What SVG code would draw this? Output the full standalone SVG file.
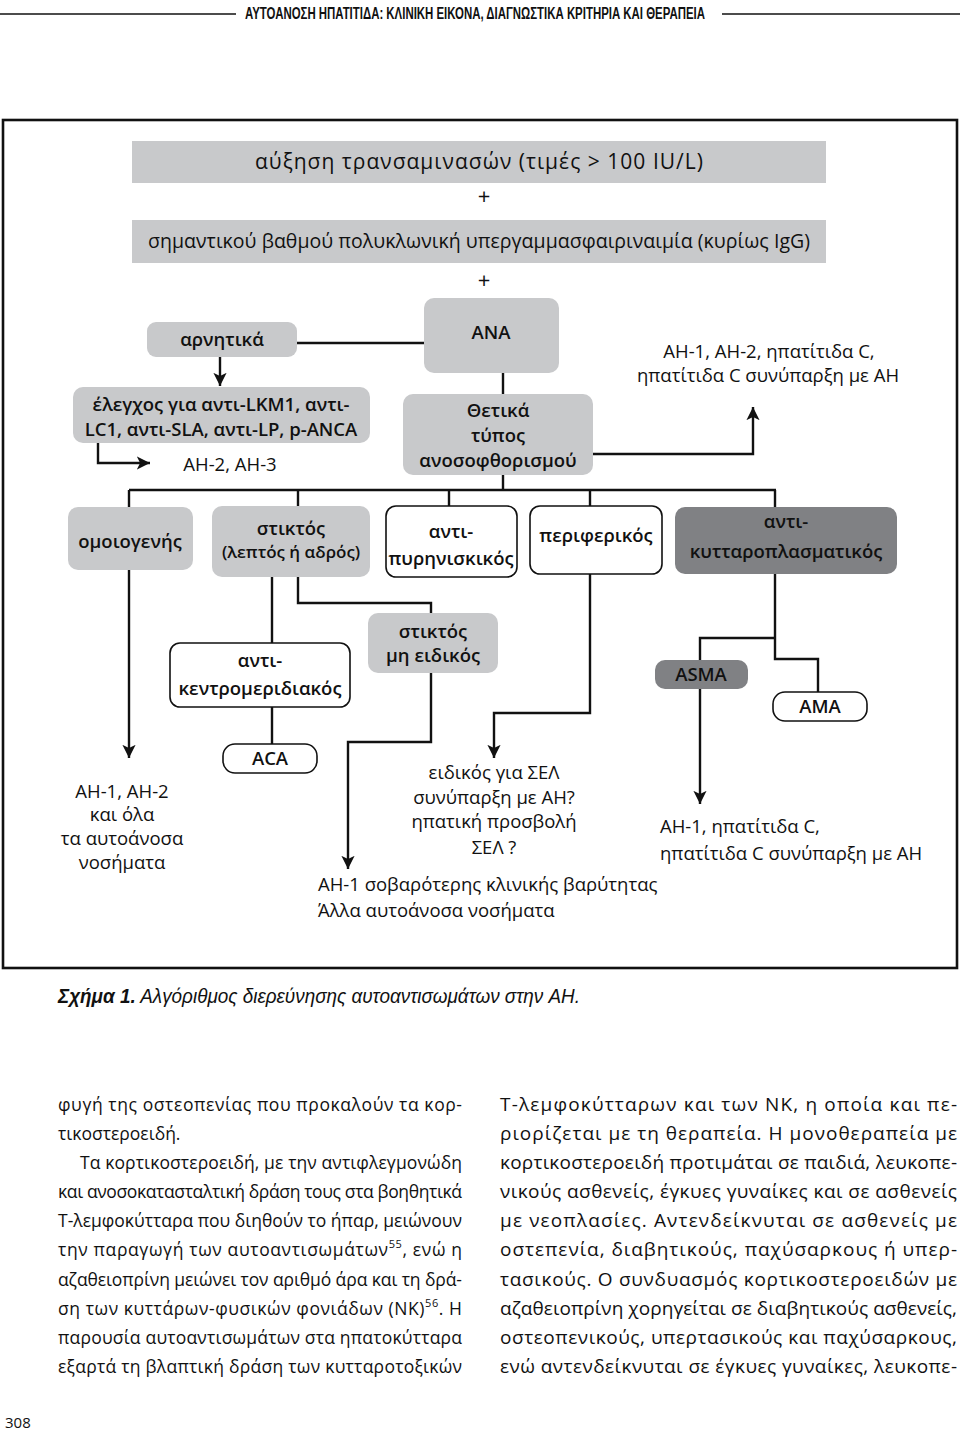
<svg xmlns="http://www.w3.org/2000/svg" width="960" height="1434" viewBox="0 0 960 1434">
<defs>
<marker id="ah" viewBox="0 0 10 10" refX="10" refY="5" markerWidth="5.5" markerHeight="5.5" markerUnits="strokeWidth" orient="auto">
<path d="M0,0 L10,5 L0,10 L2.5,5 Z" fill="#111"/>
</marker>
<style>
.lg{fill:#c8c9cb}
.dg{fill:#808184}
.wb{fill:#fff;stroke:#111;stroke-width:1.6}
.t{font-family:"Open Sans","Noto Sans","DejaVu Sans",sans-serif;font-size:18.5px;fill:#111}
.b{font-family:"Open Sans","Noto Sans","DejaVu Sans",sans-serif;font-size:18.5px;font-weight:600;fill:#111}
.m{text-anchor:middle}
.c{fill:none;stroke:#111;stroke-width:2.4}
.ca{fill:none;stroke:#111;stroke-width:2.4;marker-end:url(#ah)}
.body{font-family:"Open Sans","Noto Sans","DejaVu Sans",sans-serif;font-size:17.5px;fill:#111}
.body2{font-family:"Open Sans","Noto Sans","DejaVu Sans",sans-serif;font-size:19px;fill:#111}
.sup{font-size:11px}
</style>
</defs>
<rect width="960" height="1434" fill="#fff"/>

<!-- page header -->
<g id="header">
<line x1="0" y1="14" x2="236" y2="14" stroke="#111" stroke-width="1.5"/>
<line x1="722" y1="14" x2="960" y2="14" stroke="#111" stroke-width="1.5"/>
<text x="245" y="19" font-family="'Liberation Sans',sans-serif" font-weight="bold" font-size="16" textLength="460" lengthAdjust="spacingAndGlyphs" fill="#111">ΑΥΤΟΑΝΟΣΗ ΗΠΑΤΙΤΙΔΑ: ΚΛΙΝΙΚΗ ΕΙΚΟΝΑ, ΔΙΑΓΝΩΣΤΙΚΑ ΚΡΙΤΗΡΙΑ ΚΑΙ ΘΕΡΑΠΕΙΑ</text>
</g>

<!-- frame -->
<rect id="frame" x="3" y="120" width="954" height="848" fill="none" stroke="#111" stroke-width="2.6"/>

<!-- connectors -->
<g id="connectors">
<line class="c" x1="297" y1="343" x2="424" y2="343"/>
<line class="ca" x1="220" y1="357" x2="220" y2="386"/>
<polyline class="ca" points="98,443 98,463 150,463"/>
<line class="c" x1="503" y1="373" x2="503" y2="394"/>
<polyline class="ca" points="593,454 753,454 753,407"/>
<line class="c" x1="503" y1="475" x2="503" y2="490"/>
<line class="c" x1="129" y1="490" x2="776" y2="490"/>
<line class="c" x1="129" y1="490" x2="129" y2="507"/>
<line class="c" x1="298" y1="490" x2="298" y2="506"/>
<line class="c" x1="449" y1="490" x2="449" y2="506"/>
<line class="c" x1="590" y1="490" x2="590" y2="506"/>
<line class="c" x1="775" y1="490" x2="775" y2="507"/>
<line class="ca" x1="129" y1="570" x2="129" y2="758"/>
<line class="c" x1="272" y1="577" x2="272" y2="643"/>
<polyline class="c" points="298,577 298,603 431,603 431,613"/>
<polyline class="ca" points="431,673 431,742 348,742 348,869"/>
<line class="c" x1="272" y1="707" x2="272" y2="744"/>
<polyline class="ca" points="590,574 590,713 494,713 494,758"/>
<polyline class="c" points="775,574 775,659 818,659 818,692"/>
<polyline class="c" points="775,638 700,638 700,660"/>
<line class="ca" x1="700" y1="689" x2="700" y2="804"/>
</g>

<!-- nodes -->
<g id="n-transaminases">
<rect class="lg" x="132" y="141" width="694" height="42"/>
<text class="t m" x="479" y="169" style="font-size:21px;font-weight:500" textLength="448" lengthAdjust="spacing">αύξηση τρανσαμινασών (τιμές &gt; 100 IU/L)</text>
</g>
<g id="plus1"><text class="t m" x="484" y="204" style="font-size:22px">+</text></g>
<g id="n-hypergamma">
<rect class="lg" x="132" y="220" width="694" height="43"/>
<text class="t m" x="479" y="248" style="font-size:19.5px;font-weight:500" textLength="662" lengthAdjust="spacing">σημαντικού βαθμού πολυκλωνική υπεργαμμασφαιριναιμία (κυρίως IgG)</text>
</g>
<g id="plus2"><text class="t m" x="484" y="288" style="font-size:22px">+</text></g>

<g id="n-negative">
<rect class="lg" x="147" y="322" width="150" height="35" rx="9"/>
<text class="b m" x="222" y="346">αρνητικά</text>
</g>
<g id="n-ana">
<rect class="lg" x="424" y="298" width="135" height="75" rx="10"/>
<text class="b m" x="491" y="339">ANA</text>
</g>
<g id="n-check">
<rect class="lg" x="73" y="387" width="297" height="56" rx="10"/>
<text class="b m" x="221" y="411">έλεγχος για αντι-LKM1, αντι-</text>
<text class="b m" x="221" y="436">LC1, αντι-SLA, αντι-LP, p-ANCA</text>
</g>
<g id="n-ah23"><text class="t m" x="230" y="471">AH-2, AH-3</text></g>
<g id="n-positive">
<rect class="lg" x="403" y="394" width="190" height="81" rx="10"/>
<text class="b m" x="498" y="417">Θετικά</text>
<text class="b m" x="498" y="442">τύπος</text>
<text class="b m" x="498" y="467">ανοσοφθορισμού</text>
</g>
<g id="n-ah12c">
<text class="t m" x="769" y="358">AH-1, AH-2, ηπατίτιδα C,</text>
<text class="t m" x="768" y="382">ηπατίτιδα C συνύπαρξη με AH</text>
</g>

<g id="n-homogeneous">
<rect class="lg" x="68" y="507" width="125" height="63" rx="10"/>
<text class="b m" x="130" y="548">ομοιογενής</text>
</g>
<g id="n-speckled">
<rect class="lg" x="212" y="506" width="158" height="71" rx="10"/>
<text class="b m" x="291" y="535">στικτός</text>
<text class="b m" x="291" y="558" style="font-size:17px">(λεπτός ή αδρός)</text>
</g>
<g id="n-nucleolar">
<rect class="wb" x="386" y="506" width="131" height="71" rx="10"/>
<text class="b m" x="451" y="538">αντι-</text>
<text class="b m" x="451" y="565">πυρηνισκικός</text>
</g>
<g id="n-peripheral">
<rect class="wb" x="530" y="506" width="132" height="68" rx="10"/>
<text class="b m" x="596" y="542">περιφερικός</text>
</g>
<g id="n-cytoplasmic">
<rect class="dg" x="675" y="507" width="222" height="67" rx="10"/>
<text class="b m" x="786" y="528">αντι-</text>
<text class="b m" x="786" y="558">κυτταροπλασματικός</text>
</g>

<g id="n-nonspecific">
<rect class="lg" x="368" y="613" width="130" height="60" rx="10"/>
<text class="b m" x="433" y="638">στικτός</text>
<text class="b m" x="433" y="662">μη ειδικός</text>
</g>
<g id="n-centromere">
<rect class="wb" x="170" y="643" width="180" height="64" rx="10"/>
<text class="b m" x="260" y="667">αντι-</text>
<text class="b m" x="260" y="695">κεντρομεριδιακός</text>
</g>
<g id="n-aca">
<rect class="wb" x="223" y="744" width="94" height="29" rx="12"/>
<text class="b m" x="270" y="765">ACA</text>
</g>
<g id="n-asma">
<rect class="dg" x="655" y="660" width="93" height="29" rx="10"/>
<text class="b m" x="701" y="681">ASMA</text>
</g>
<g id="n-ama">
<rect class="wb" x="773" y="692" width="94" height="29" rx="12"/>
<text class="b m" x="820" y="713">AMA</text>
</g>

<g id="n-all">
<text class="t m" x="122" y="798">AH-1, AH-2</text>
<text class="t m" x="122" y="821">και όλα</text>
<text class="t m" x="122" y="845">τα αυτοάνοσα</text>
<text class="t m" x="122" y="869">νοσήματα</text>
</g>
<g id="n-sle">
<text class="t m" x="494" y="779">ειδικός για ΣΕΛ</text>
<text class="t m" x="494" y="804">συνύπαρξη με AH?</text>
<text class="t m" x="494" y="828">ηπατική προσβολή</text>
<text class="t m" x="494" y="854">ΣΕΛ ?</text>
</g>
<g id="n-severe">
<text class="t" x="318" y="891">AH-1 σοβαρότερης κλινικής βαρύτητας</text>
<text class="t" x="318" y="917">Άλλα αυτοάνοσα νοσήματα</text>
</g>
<g id="n-ah1c">
<text class="t" x="660" y="833">AH-1, ηπατίτιδα C,</text>
<text class="t" x="660" y="860">ηπατίτιδα C συνύπαρξη με AH</text>
</g>

<!-- caption -->
<text x="58" y="1003" font-family="'Liberation Sans',sans-serif" font-style="italic" font-size="20" textLength="522" lengthAdjust="spacingAndGlyphs" fill="#111"><tspan font-weight="bold">Σχήμα 1.</tspan> Αλγόριθμος διερεύνησης αυτοαντισωμάτων στην AH.</text>

<!-- body text -->
<g id="body-left" class="body">
<text x="58" y="1111" textLength="404" lengthAdjust="spacing">φυγή της οστεοπενίας που προκαλούν τα κορ-</text>
<text x="58" y="1140">τικοστεροειδή.</text>
<text x="80" y="1169" textLength="382" lengthAdjust="spacing">Τα κορτικοστεροειδή, με την αντιφλεγμονώδη</text>
<text x="58" y="1198" textLength="404" lengthAdjust="spacing">και ανοσοκατασταλτική δράση τους στα βοηθητικά</text>
<text x="58" y="1227" textLength="404" lengthAdjust="spacing">Τ-λεμφοκύτταρα που διηθούν το ήπαρ, μειώνουν</text>
<text x="58" y="1256" textLength="404" lengthAdjust="spacing">την παραγωγή των αυτοαντισωμάτων<tspan class="sup" dy="-8">55</tspan><tspan dy="8">, ενώ η</tspan></text>
<text x="58" y="1286" textLength="404" lengthAdjust="spacing">αζαθειοπρίνη μειώνει τον αριθμό άρα και τη δρά-</text>
<text x="58" y="1315" textLength="404" lengthAdjust="spacing">ση των κυττάρων-φυσικών φονιάδων (NK)<tspan class="sup" dy="-8">56</tspan><tspan dy="8">. Η</tspan></text>
<text x="58" y="1344" textLength="404" lengthAdjust="spacing">παρουσία αυτοαντισωμάτων στα ηπατοκύτταρα</text>
<text x="58" y="1373" textLength="404" lengthAdjust="spacing">εξαρτά τη βλαπτική δράση των κυτταροτοξικών</text>
</g>
<g id="body-right" class="body2">
<text x="500" y="1111" textLength="457" lengthAdjust="spacing">Τ-λεμφοκύτταρων και των NK, η οποία και πε-</text>
<text x="500" y="1140" textLength="457" lengthAdjust="spacing">ριορίζεται με τη θεραπεία. Η μονοθεραπεία με</text>
<text x="500" y="1169" textLength="457" lengthAdjust="spacing">κορτικοστεροειδή προτιμάται σε παιδιά, λευκοπε-</text>
<text x="500" y="1198" textLength="457" lengthAdjust="spacing">νικούς ασθενείς, έγκυες γυναίκες και σε ασθενείς</text>
<text x="500" y="1227" textLength="457" lengthAdjust="spacing">με νεοπλασίες. Αντενδείκνυται σε ασθενείς με</text>
<text x="500" y="1256" textLength="457" lengthAdjust="spacing">οστεπενία, διαβητικούς, παχύσαρκους ή υπερ-</text>
<text x="500" y="1286" textLength="457" lengthAdjust="spacing">τασικούς. Ο συνδυασμός κορτικοστεροειδών με</text>
<text x="500" y="1315" textLength="457" lengthAdjust="spacing">αζαθειοπρίνη χορηγείται σε διαβητικούς ασθενείς,</text>
<text x="500" y="1344" textLength="457" lengthAdjust="spacing">οστεοπενικούς, υπερτασικούς και παχύσαρκους,</text>
<text x="500" y="1373" textLength="457" lengthAdjust="spacing">ενώ αντενδείκνυται σε έγκυες γυναίκες, λευκοπε-</text>
</g>

<text x="5" y="1428" font-family="'Open Sans',sans-serif" font-size="15" fill="#111">308</text>
</svg>
